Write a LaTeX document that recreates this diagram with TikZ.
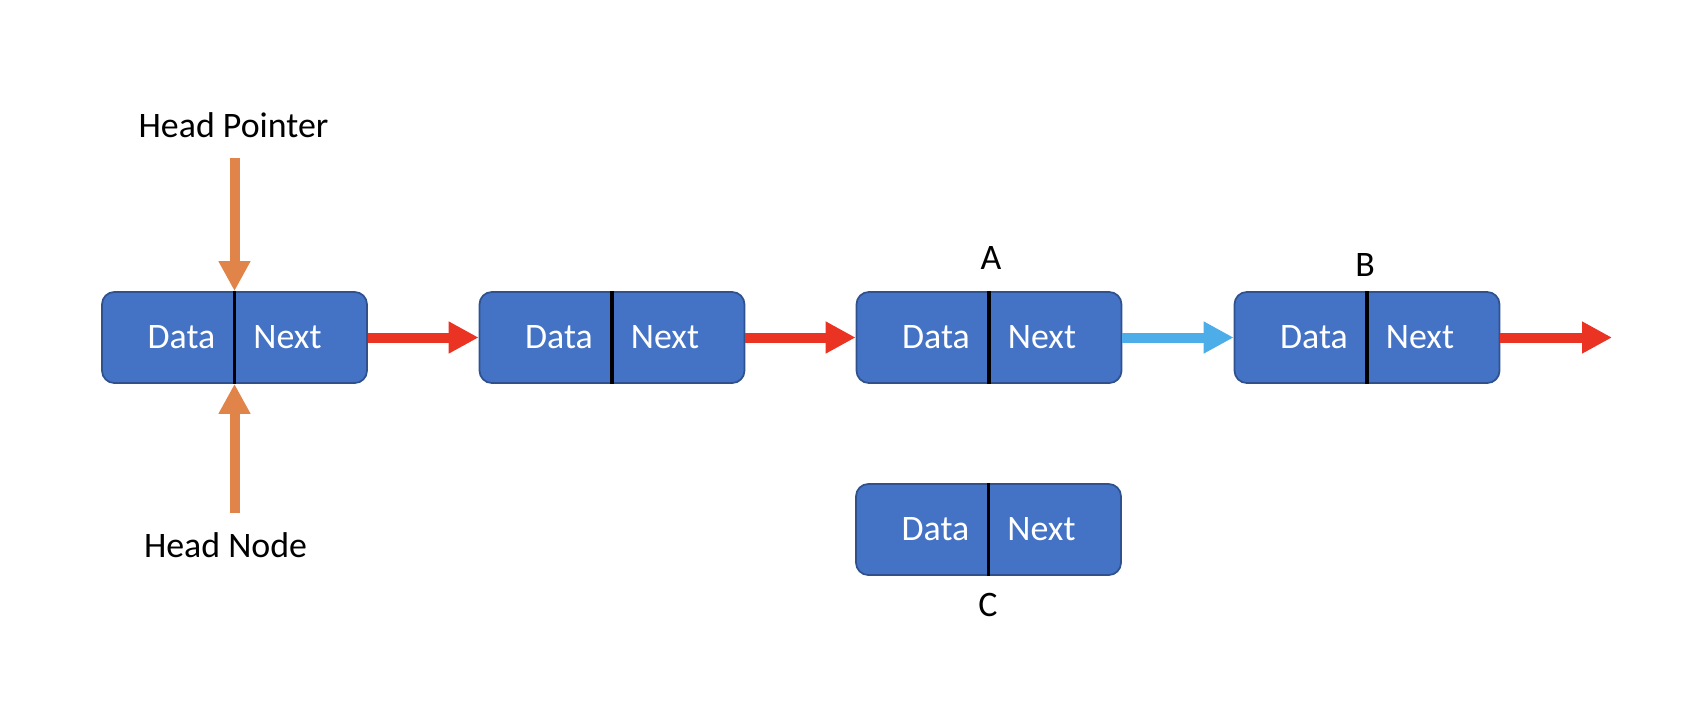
\documentclass[tikz,border=0pt]{standalone}
\usepackage{fontspec}
\setmainfont{Carlito}
\usetikzlibrary{arrows.meta,positioning,calc}
\definecolor{boxblue}{HTML}{4472C4}
\definecolor{boxline}{HTML}{2F528F}
\definecolor{ptrorange}{HTML}{E0844A}
\definecolor{linkred}{HTML}{EA3323}
\definecolor{linkblue}{HTML}{4DADE8}
\tikzset{
  cellbox/.style={draw=boxline, line width=0.5pt, fill=boxblue, rounded corners=3.5pt,
    minimum width=26.5mm, minimum height=9.1mm, inner sep=0pt},
  divider/.style={black, line width=0.9pt},
  celltxt/.style={text=white, font=\fontsize{10.2}{12}\selectfont, inner sep=0pt},
  lbl/.style={font=\fontsize{10.2}{12}\selectfont, inner sep=0pt},
  link/.style={-{Triangle[length=3mm, width=3mm]}, line width=1mm, linkred},
  newlink/.style={link, linkblue},
  headptr/.style={link, ptrorange},
}
\newcommand{\listnode}[2]{%
  \node[cellbox] (#1) at (#2) {};
  \draw[divider] (#1.north) -- (#1.south);
  \node[celltxt] (#1d) at ($(#1.center)+(-0.53,0)$) {Data};
  \node[celltxt] (#1n) at ($(#1.center)+( 0.53,0)$) {Next};
}

\begin{document}
\begin{tikzpicture}
  \useasboundingbox (0,0) rectangle (17.06,-7.12);

  %% ---- list nodes ----
  \listnode{n1}{2.345,-3.375}
  \listnode{n2}{6.12,-3.375}
  \listnode{n3}{9.89,-3.375}
  \listnode{n4}{13.67,-3.375}
  \listnode{nc}{9.885,-5.295}

  \node[lbl] (la) at (9.91,-2.58) {A};
  \node[lbl] (lb) at (13.65,-2.65) {B};
  \node[lbl] (lc) at (9.88,-6.045) {C};

  %% ---- head labels ----
  \node[lbl] (hptr)  at (2.335,-1.25) {Head Pointer};
  \node[lbl] (hnode) at (2.255,-5.45) {Head Node};

  \draw[headptr, shorten <=0.2cm] (hptr.south -| n1.north) -- (n1.north);
  \draw[headptr, shorten <=0.19cm] (hnode.north -| n1.south) -- (n1.south);

  %% ---- links ----
  \coordinate (tail) at (16.12,-3.375);
  \draw[link] (n1.east) -- (n2.west);
  \draw[link] (n2.east) -- (n3.west);
  \draw[newlink] (n3.east) -- (n4.west);
  \draw[link] (n4.east) -- (tail);

\end{tikzpicture}
\end{document}
